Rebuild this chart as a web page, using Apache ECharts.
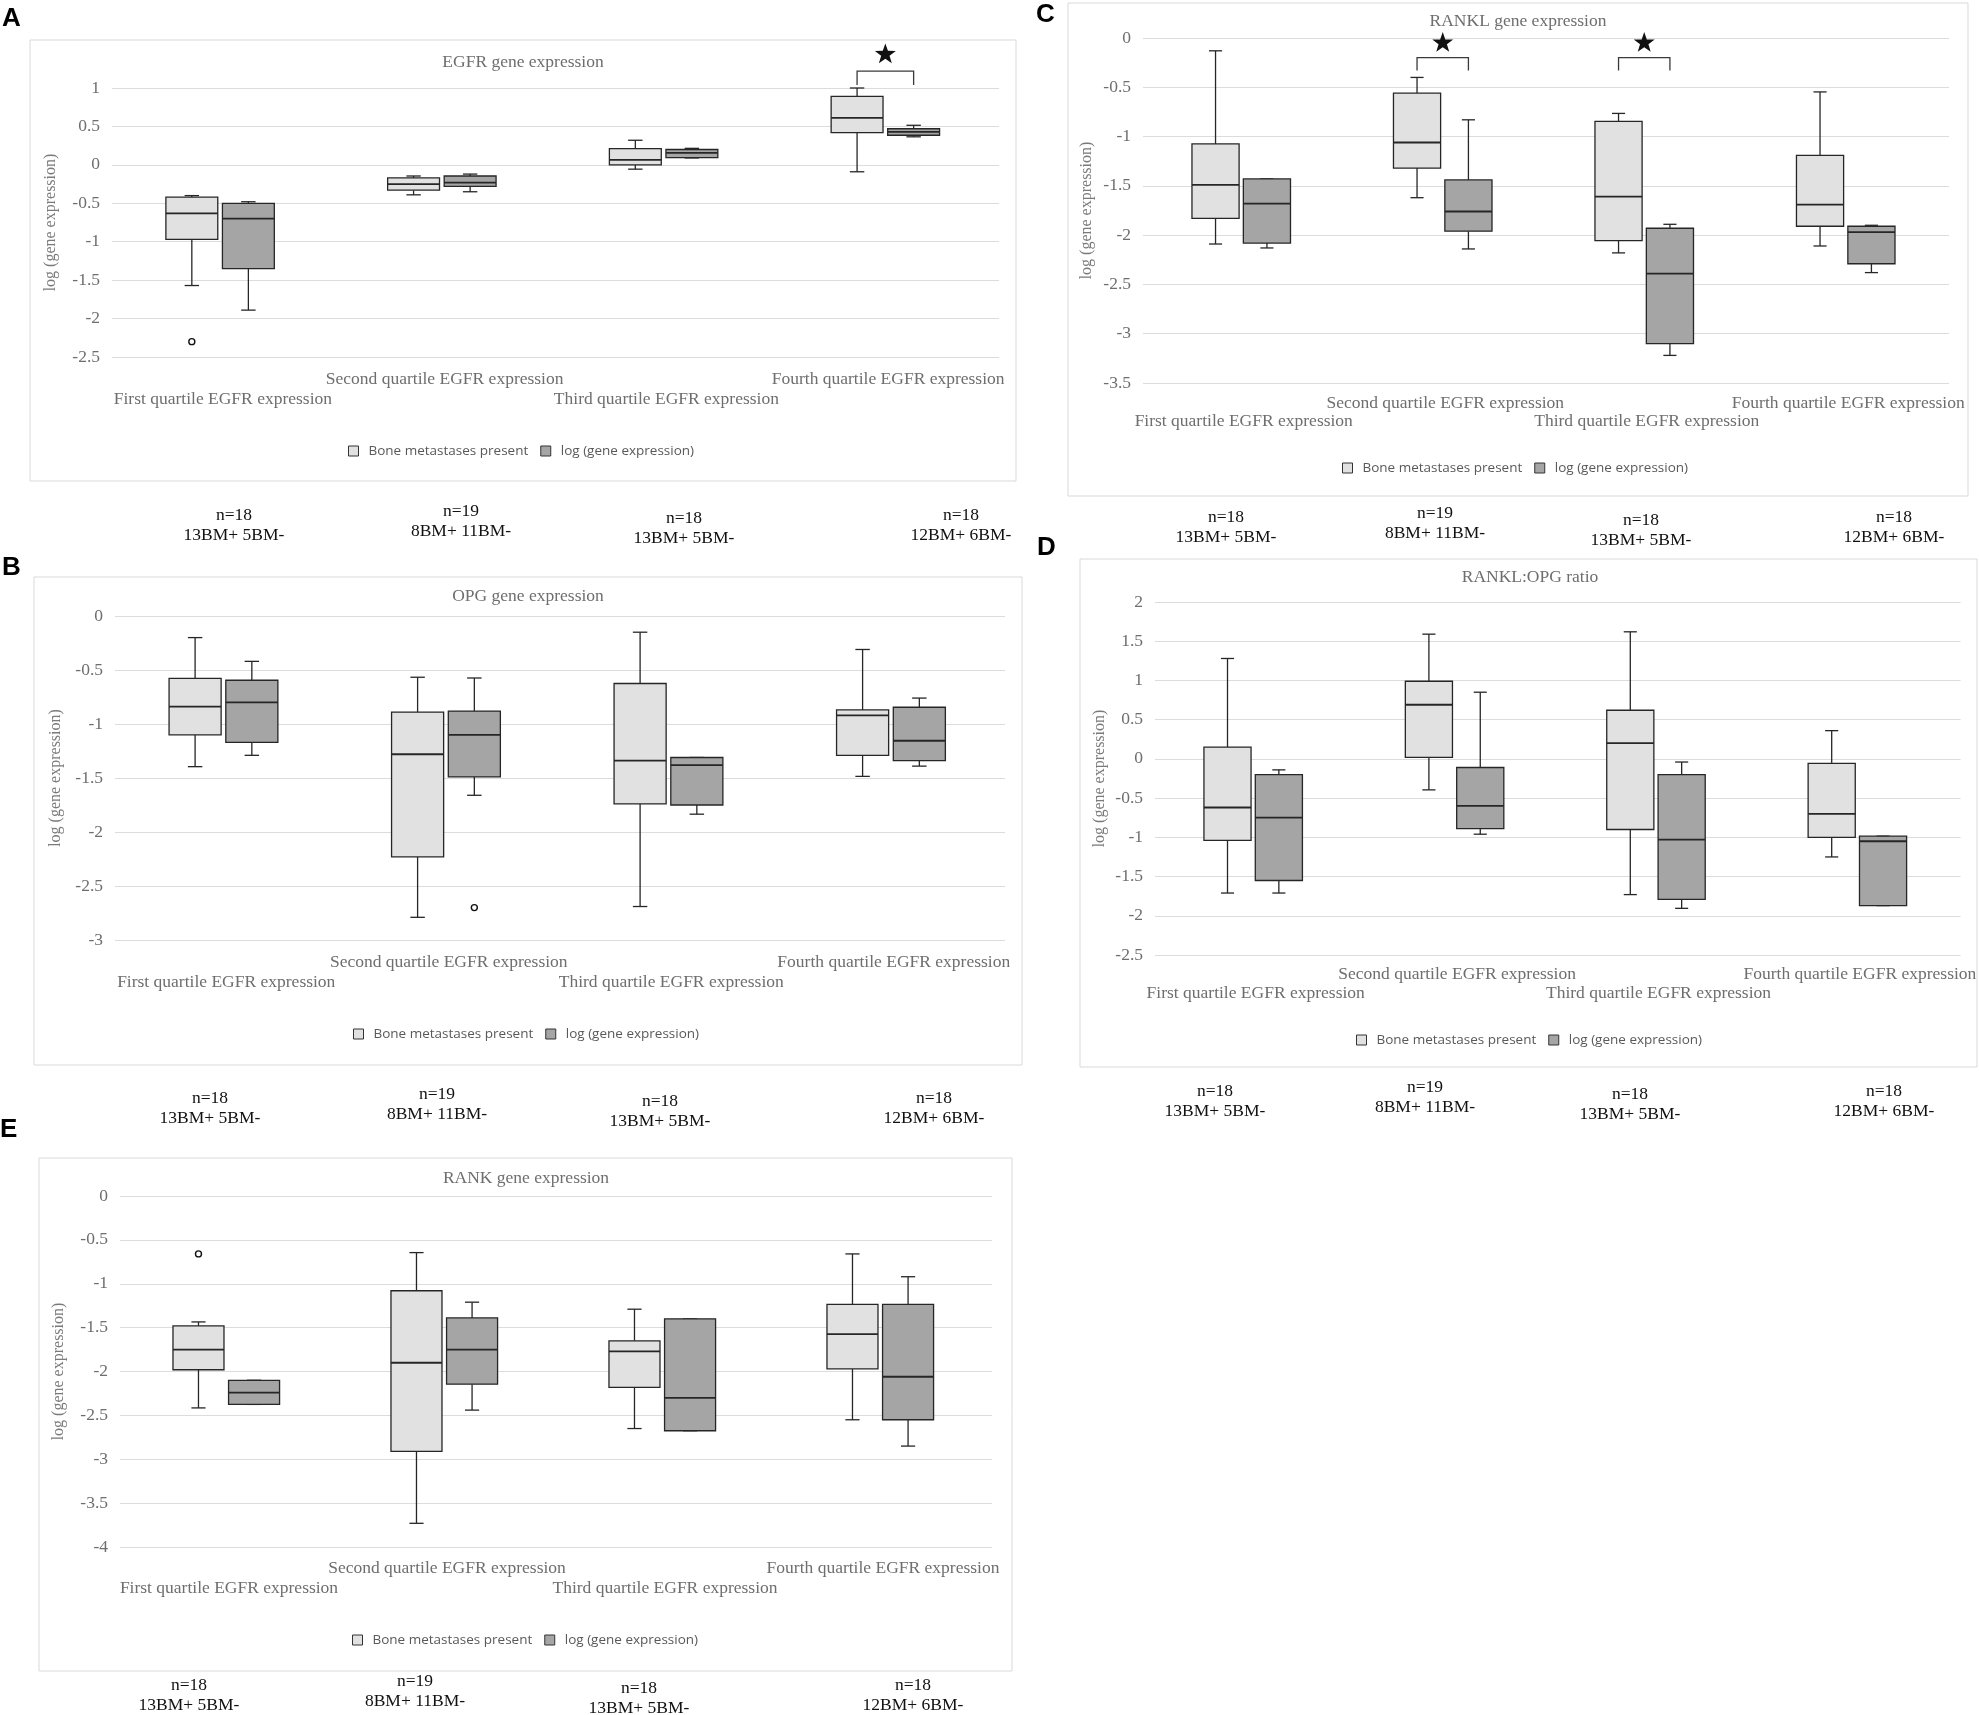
<!DOCTYPE html>
<html>
<head>
<meta charset="utf-8">
<title>Gene expression by EGFR quartile</title>
<script src="https://cdn.jsdelivr.net/npm/echarts@6/dist/echarts.min.js"></script>
<style>
	html, body { margin: 0; padding: 0; background: #fff; }
	#chart { width: 1979px; height: 1715px; }
</style>
</head>
<body>
<div id="chart"></div>
<script>
// categories / legend / labels
var categories = ['First quartile EGFR expression', 'Second quartile EGFR expression', 'Third quartile EGFR expression', 'Fourth quartile EGFR expression'];
var seriesNames = ['Bone metastases present', 'log (gene expression)'];
var panelTitles = ['EGFR gene expression', 'OPG gene expression', 'RANKL gene expression', 'RANKL:OPG ratio', 'RANK gene expression'];
var panelLetters = ['A', 'B', 'C', 'D', 'E'];
var yAxisName = 'log (gene expression)';
var nLabels = ['n=18\n13BM+ 5BM-', 'n=19\n8BM+ 11BM-', 'n=18\n13BM+ 5BM-', 'n=18\n12BM+ 6BM-'];

// y axis ranges per panel
var yMin = [-2.5, -3, -3.5, -2.5, -4];
var yMax = [1, 0, 0, 2, 0];
var yStep = 0.5;

// box stats: [min, Q1, median, Q3, max] per quartile
var egfrBM  = [[-1.57, -0.97, -0.63, -0.42, -0.40], [-0.39, -0.33, -0.25, -0.17, -0.145], [-0.056, 0.0, 0.065, 0.21, 0.32], [-0.09, 0.42, 0.61, 0.89, 1.0]];
var egfrLog = [[-1.89, -1.35, -0.70, -0.50, -0.48], [-0.35, -0.28, -0.23, -0.145, -0.12], [0.09, 0.094, 0.155, 0.20, 0.215], [0.365, 0.385, 0.43, 0.47, 0.515]];
var opgBM  = [[-1.395, -1.10, -0.84, -0.577, -0.20], [-2.79, -2.23, -1.28, -0.89, -0.567], [-2.69, -1.74, -1.34, -0.625, -0.15], [-1.485, -1.29, -0.92, -0.87, -0.31]];
var opgLog = [[-1.29, -1.17, -0.80, -0.595, -0.42], [-1.66, -1.49, -1.10, -0.88, -0.574], [-1.835, -1.75, -1.38, -1.31, -1.31], [-1.39, -1.34, -1.155, -0.845, -0.76]];
var ranklBM  = [[-2.09, -1.83, -1.49, -1.075, -0.13], [-1.62, -1.32, -1.06, -0.56, -0.40], [-2.18, -2.055, -1.61, -0.845, -0.765], [-2.11, -1.91, -1.69, -1.19, -0.547]];
var ranklLog = [[-2.13, -2.08, -1.68, -1.43, -1.43], [-2.14, -1.96, -1.76, -1.44, -0.83], [-3.22, -3.10, -2.39, -1.93, -1.89], [-2.38, -2.29, -1.97, -1.91, -1.90]];
var ratioBM  = [[-1.71, -1.04, -0.62, 0.15, 1.28], [-0.395, 0.02, 0.69, 0.99, 1.59], [-1.73, -0.90, 0.20, 0.62, 1.62], [-1.25, -1.0, -0.70, -0.057, 0.36]];
var ratioLog = [[-1.71, -1.55, -0.75, -0.20, -0.14], [-0.96, -0.89, -0.60, -0.11, 0.85], [-1.905, -1.79, -1.03, -0.20, -0.04], [-1.87, -1.87, -1.05, -0.985, -0.985]];
var rankBM  = [[-2.415, -1.98, -1.75, -1.48, -1.435], [-3.73, -2.91, -1.90, -1.08, -0.645], [-2.65, -2.18, -1.77, -1.65, -1.29], [-2.55, -1.97, -1.575, -1.235, -0.66]];
var rankLog = [[-2.375, -2.375, -2.24, -2.10, -2.10], [-2.44, -2.145, -1.75, -1.39, -1.21], [-2.675, -2.675, -2.30, -1.40, -1.40], [-2.85, -2.55, -2.06, -1.235, -0.92]];

// outliers: [quartile index, value]
var egfrOutBM = [[0, -2.30]];
var opgOutLog = [[1, -2.70]];
var rankOutBM = [[0, -0.66]];

// significance: [quartile index, bracket leg end, bracket top, star]
var egfrSig = [[3, 1.04, 1.22, 1.45]];
var ranklSig = [[1, -0.33, -0.20, -0.04], [2, -0.33, -0.20, -0.04]];

var SERIF = '"Liberation Serif", "DejaVu Serif", serif';
var SANS = '"Open Sans", "Liberation Sans", sans-serif';
var GREY_TEXT = '#6e6e6e';
var FILLS = ['#e1e1e1', '#a5a5a5'];
var OFFSETS = [-0.14, 0.115];   // box centre offset in band units
var BOX_W = 0.234;
var CAP_W = 0.065;
var EDGE = '#262626';

// page layout of the five panels
var panels = [
	{box: [egfrBM, egfrLog], out: [egfrOutBM, []], sig: egfrSig,
		grid: [112, 88, 887, 269], title: [523, 63], legend: [524, 451], frame: [30, 40, 986, 441],
		letter: [2, 6], nX: [234, 461, 684, 961], nY: 515, nameGap: 53, lblMargin: 12, lblLine: 20},
	{box: [opgBM, opgLog], out: [[], opgOutLog], sig: [],
		grid: [115, 616, 890, 324], title: [528, 597], legend: [529, 1034], frame: [34, 577, 988, 488],
		letter: [2, 555], nX: [210, 437, 660, 934], nY: 1098, nameGap: 51, lblMargin: 12, lblLine: 20},
	{box: [ranklBM, ranklLog], out: [[], []], sig: ranklSig,
		grid: [1143, 38, 806, 345], title: [1518, 22], legend: [1518, 468], frame: [1068, 3, 900, 493],
		letter: [1036, 2], nX: [1226, 1435, 1641, 1894], nY: 517, nameGap: 48, lblMargin: 11, lblLine: 18},
	{box: [ratioBM, ratioLog], out: [[], []], sig: [],
		grid: [1155, 602, 808, 353], title: [1530, 578], legend: [1532, 1040], frame: [1080, 559, 897, 508],
		letter: [1037, 535], nX: [1215, 1425, 1630, 1884], nY: 1091, nameGap: 47, lblMargin: 10, lblLine: 19},
	{box: [rankBM, rankLog], out: [rankOutBM, []], sig: [],
		grid: [120, 1196, 872, 351], title: [526, 1179], legend: [528, 1640], frame: [39, 1158, 973, 513],
		letter: [0, 1117], nX: [189, 415, 639, 913], nY: 1685, nameGap: 53, lblMargin: 11, lblLine: 20}
];
var nDy = [0, -4, 3, 0];

function bandX(api, cat, k) {
	var band = api.size([1, 0])[0];
	return {c: api.coord([cat, 0])[0] + OFFSETS[k] * band, band: band};
}

function boxRenderer(k) {
	return function (params, api) {
		var cat = api.value(0);
		var b = bandX(api, cat, k);
		var half = b.band * BOX_W / 2, cap = b.band * CAP_W / 2;
		var y = [1, 2, 3, 4, 5].map(function (d) { return api.coord([cat, api.value(d)])[1]; });
		var ln = {stroke: EDGE, lineWidth: 1.3};
		return {type: 'group', children: [
			{type: 'line', shape: {x1: b.c, y1: y[3], x2: b.c, y2: y[4]}, style: ln},
			{type: 'line', shape: {x1: b.c - cap, y1: y[4], x2: b.c + cap, y2: y[4]}, style: ln},
			{type: 'line', shape: {x1: b.c, y1: y[1], x2: b.c, y2: y[0]}, style: ln},
			{type: 'line', shape: {x1: b.c - cap, y1: y[0], x2: b.c + cap, y2: y[0]}, style: ln},
			{type: 'rect', shape: {x: b.c - half, y: y[3], width: half * 2, height: y[1] - y[3]},
				style: {fill: FILLS[k], stroke: EDGE, lineWidth: 1.3}},
			{type: 'line', shape: {x1: b.c - half, y1: y[2], x2: b.c + half, y2: y[2]}, style: {stroke: EDGE, lineWidth: 1.8}}
		]};
	};
}

function outlierRenderer(k) {
	return function (params, api) {
		var cat = api.value(0);
		var b = bandX(api, cat, k);
		var y = api.coord([cat, api.value(1)])[1];
		return {type: 'circle', shape: {cx: b.c, cy: y, r: 3}, style: {fill: '#fff', stroke: '#111', lineWidth: 1.4}};
	};
}

function sigRenderer(params, api) {
	var cat = api.value(0);
	var x1 = bandX(api, cat, 0).c, x2 = bandX(api, cat, 1).c;
	var yLeg = api.coord([cat, api.value(1)])[1];
	var yTop = api.coord([cat, api.value(2)])[1];
	var yStar = api.coord([cat, api.value(3)])[1];
	var sx = (x1 + x2) / 2, pts = [];
	for (var i = 0; i < 10; i++) {
		var r = i % 2 === 0 ? 11 : 4.4;
		var a = -Math.PI / 2 + i * Math.PI / 5;
		pts.push([sx + r * Math.cos(a), yStar + 1 + r * Math.sin(a)]);
	}
	return {type: 'group', children: [
		{type: 'polyline', shape: {points: [[x1, yLeg], [x1, yTop], [x2, yTop], [x2, yLeg]]},
			style: {stroke: '#3a3a3a', lineWidth: 1.3, fill: null}},
		{type: 'polygon', shape: {points: pts}, style: {fill: '#111'}}
	]};
}

var option = {
	animation: false,
	backgroundColor: '#ffffff',
	title: [], legend: [], grid: [], xAxis: [], yAxis: [], series: [], graphic: []
};

panels.forEach(function (p, i) {
	option.grid.push({left: p.grid[0], top: p.grid[1], width: p.grid[2], height: p.grid[3], containLabel: false});
	option.title.push({
		text: panelTitles[i], left: p.title[0], top: p.title[1] - 10, textAlign: 'center', padding: 0,
		textStyle: {fontFamily: SERIF, fontSize: 17.5, fontWeight: 'normal', color: GREY_TEXT}
	});
	option.legend.push({
		left: p.legend[0] - 176, top: p.legend[1] - 7, padding: 0, icon: 'rect', itemWidth: 10, itemHeight: 10, itemGap: 12,
		selectedMode: false,
		textStyle: {fontFamily: SANS, fontSize: 13.5, color: '#595959', padding: [0, 0, 0, 5]},
		data: seriesNames.map(function (n, k) {
			return {name: n, itemStyle: {color: FILLS[k], borderColor: '#333', borderWidth: 1}};
		})
	});
	option.xAxis.push({
		gridIndex: i, type: 'category', data: categories, boundaryGap: true,
		axisLine: {show: false}, axisTick: {show: false}, splitLine: {show: false},
		axisLabel: {
			interval: 0, margin: p.lblMargin, lineHeight: p.lblLine, fontFamily: SERIF, fontSize: 17.5, color: GREY_TEXT,
			formatter: function (v, idx) { return idx % 2 === 0 ? '\n' + v : v; }
		}
	});
	option.yAxis.push({
		gridIndex: i, type: 'value', min: yMin[i], max: yMax[i], interval: yStep,
		name: yAxisName, nameLocation: 'middle', nameGap: p.nameGap, nameRotate: 90,
		nameTextStyle: {fontFamily: SERIF, fontSize: 16, color: '#7a7a7a'},
		axisLine: {show: false}, axisTick: {show: false},
		axisLabel: {margin: 12, fontFamily: SERIF, fontSize: 17.5, color: GREY_TEXT},
		splitLine: {show: true, lineStyle: {color: '#dcdcdc', width: 1.2}}
	});

	[0, 1].forEach(function (k) {
		option.series.push({
			name: seriesNames[k], type: 'custom', xAxisIndex: i, yAxisIndex: i,
			itemStyle: {color: FILLS[k], borderColor: '#333'},
			encode: {x: 0, y: [1, 2, 3, 4, 5]},
			renderItem: boxRenderer(k),
			data: p.box[k].map(function (d, c) { return [c].concat(d); })
		});
		if (p.out[k].length) {
			option.series.push({
				type: 'custom', xAxisIndex: i, yAxisIndex: i, encode: {x: 0, y: 1},
				renderItem: outlierRenderer(k), data: p.out[k]
			});
		}
	});
	if (p.sig.length) {
		option.series.push({
			type: 'custom', xAxisIndex: i, yAxisIndex: i, encode: {x: 0, y: [1, 2, 3]},
			renderItem: sigRenderer, data: p.sig
		});
	}

	// frame, panel letter, group sizes under each panel
	option.graphic.push({
		type: 'rect', z: -1, shape: {x: p.frame[0], y: p.frame[1], width: p.frame[2], height: p.frame[3]},
		style: {fill: 'none', stroke: '#d9d9d9', lineWidth: 1}
	});
	option.graphic.push({
		type: 'text', x: p.letter[0], y: p.letter[1],
		style: {text: panelLetters[i], font: 'bold 26px "Liberation Sans", sans-serif', fill: '#000'}
	});
	nLabels.forEach(function (t, c) {
		option.graphic.push({
			type: 'text', x: p.nX[c], y: p.nY + nDy[c] - 10,
			style: {text: t, align: 'center', verticalAlign: 'top', lineHeight: 20,
				font: '17.5px "Liberation Serif", serif', fill: '#111'}
		});
	});
});

var chart = echarts.init(document.getElementById('chart'));
chart.setOption(option);
</script>
</body>
</html>
